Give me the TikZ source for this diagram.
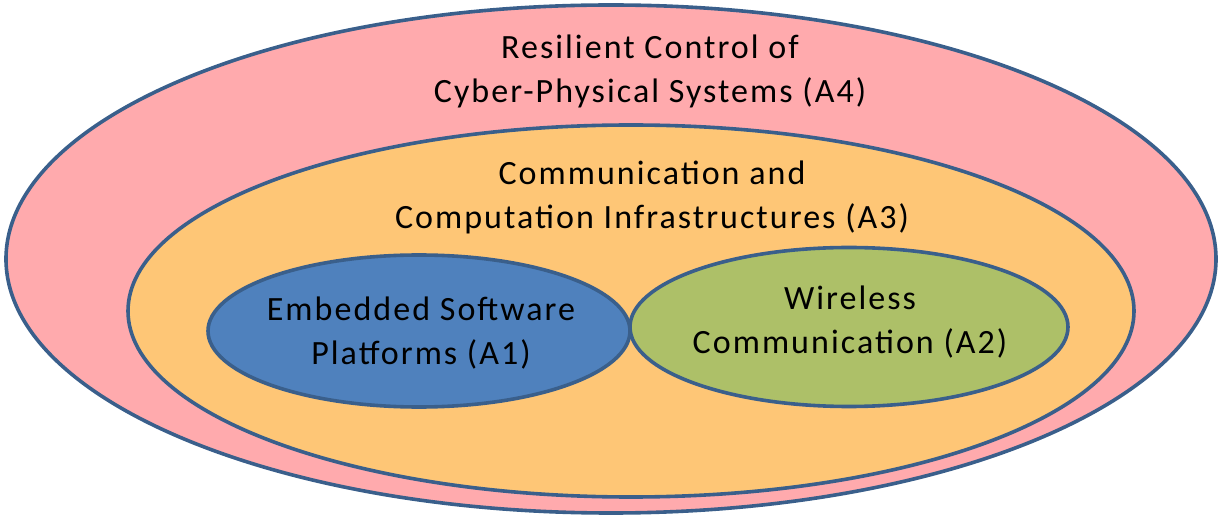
\documentclass[tikz,border=0pt]{standalone}
\usepackage{fontspec}
\setmainfont{Carlito}[LetterSpace=6]
\usetikzlibrary{shapes.geometric}
\definecolor{rim}{RGB}{58,95,139}
\definecolor{pinkfill}{RGB}{255,170,173}
\definecolor{orangefill}{RGB}{254,198,118}
\definecolor{bluefill}{RGB}{79,129,189}
\definecolor{greenfill}{RGB}{173,192,104}
\tikzset{
  area/.style={ellipse, draw=rim, line width=3.6pt, inner sep=0pt, outer sep=0pt},
  caption/.style={align=center, font=\fontsize{34}{44}\selectfont, text=black, inner sep=0pt}
}
\begin{document}
\begin{tikzpicture}[x=1pt,y=-1pt]
\useasboundingbox (0,0) rectangle (1218,518);
% nested research areas
\node[area, fill=pinkfill, minimum width=1210pt, minimum height=508pt] (a4) at (611,259) {};
\node[area, fill=orangefill, minimum width=1006pt, minimum height=372pt] (a3) at (631,311) {};
\node[area, fill=bluefill, minimum width=422pt, minimum height=152pt] (a1) at (419,331) {};
\node[area, fill=greenfill, minimum width=438pt, minimum height=159pt] (a2) at (849,327) {};
% labels
\node[caption] (t4) at (650,71) {Resilient Control of\\Cyber-Physical Systems (A4)};
\node[caption] (t3) at (652,197) {Communication and\\Computation Infrastructures (A3)};
\node[caption] (t1) at (421,333) {Embedded Software\\Platforms (A1)};
\node[caption] (t2) at (850,322) {Wireless\\Communication (A2)};
\end{tikzpicture}
\end{document}
